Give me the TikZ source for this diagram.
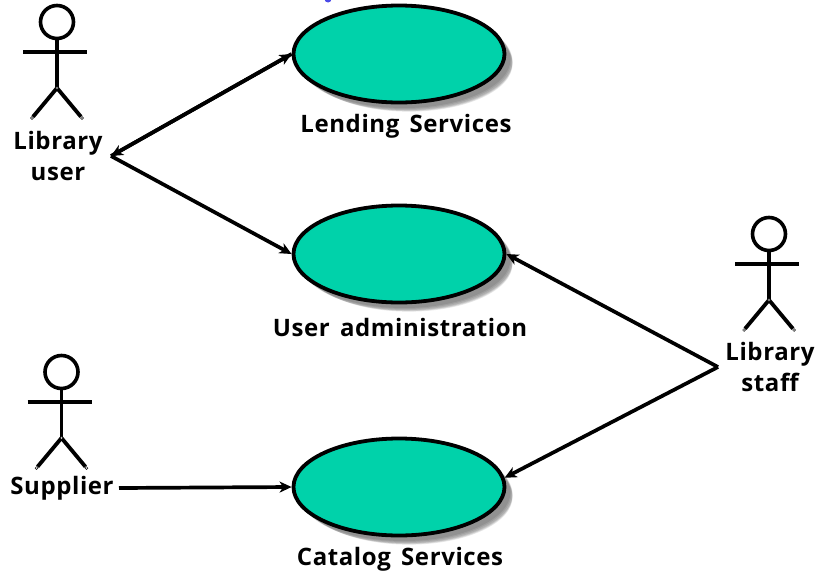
\documentclass[tikz,border=0pt]{standalone}
\usepackage{fontspec}
\setmainfont{Open Sans}
\newfontfamily\lblfont[LetterSpace=2.5,WordSpace=1.5]{Open Sans}
\usetikzlibrary{shapes.geometric,arrows.meta}
\definecolor{usecasefill}{HTML}{00D2AA}
\definecolor{markblue}{HTML}{4A4AE8}
\tikzset{
  x=1pt,y=-1pt,
  usecase/.style={ellipse,draw=black,line width=3.8pt,fill=usecasefill,minimum width=211pt,minimum height=97pt,inner sep=0pt,outer sep=1.9pt},
  lbl/.style={font=\fontsize{24}{31}\lblfont\bfseries,align=center,inner sep=0pt,outer sep=0pt},
  limb/.style={line width=3.8pt,draw=black},
  joint/.style={circle,draw=black,fill=white,line width=0.5pt,minimum size=2.8pt,inner sep=0pt},
  link/.style={line width=3.7pt,draw=black,-{Stealth[length=12pt,width=11pt,inset=3.5pt]}},
  plainlink/.style={line width=3.7pt,draw=black},
}
\newcommand{\stickman}[3]{%
  \begin{scope}[shift={(#2,#3)}]
    \node[circle,draw=black,line width=3.6pt,minimum size=33pt,inner sep=0pt] (#1head) at (0,0) {};
    \coordinate (#1hip) at (0,66);
    \node[joint] (#1lf) at (-25,96) {};
    \node[joint] (#1rf) at (25,96) {};
    \coordinate (#1al) at (-34,30);
    \coordinate (#1ar) at (30,30);
    \draw[limb] (#1head) -- (#1hip);
    \draw[limb] (#1al) -- (#1ar);
    \draw[limb] (#1hip) -- (#1lf);
    \draw[limb] (#1hip) -- (#1rf);
    \node[joint] at (#1hip) {};
  \end{scope}}
\begin{document}
\begin{tikzpicture}
\useasboundingbox (0,0) rectangle (819,573);
% small blue mark cut by the top edge
\begin{scope}
\clip (0,0) rectangle (819,573);
\fill[markblue] (328,-1) circle (3.5);
\end{scope}
% soft shadows
\foreach \cy in {54,254,487}{
  \foreach \d/\w in {10/207,9/209,8/211,7/213,6/213,5/213}{
    \node[ellipse,fill=black,opacity=0.09,minimum width=\w pt,minimum height=\w pt*0.46,inner sep=0pt] at (399+\d,\cy+\d) {};
  }
}
\node[usecase] (lend) at (399,54) {};
\node[usecase] (admin) at (399,254) {};
\node[usecase] (cat) at (399,487) {};
\node[lbl] (lendl) at (406,126) {Lending Services};
\node[lbl] (adminl) at (400,327) {User administration};
\node[lbl] (catl) at (400,559) {Catalog Services};
\stickman{u}{57}{22}
\stickman{s}{61.5}{372}
\stickman{t}{769}{234}
\node[lbl,minimum width=106pt] (ul) at (58,156) {Library\\user};
\node[lbl,minimum width=114pt] (sl) at (62,488) {Supplier};
\node[lbl,minimum width=104pt] (tl) at (770,367) {Library\\staff};
\draw[link] (ul.east) -- (lend.west);
\draw[plainlink,{Stealth[length=12pt,width=11pt,inset=3.5pt]}-] (ul.east) -- (lend.west);
\draw[link] (ul.east) -- (admin.west);
\draw[link] (sl.east) -- (cat.west);
\draw[link] (tl.west) -- (admin.east);
\draw[link] (tl.west) -- (cat.5);
\end{tikzpicture}
\end{document}
